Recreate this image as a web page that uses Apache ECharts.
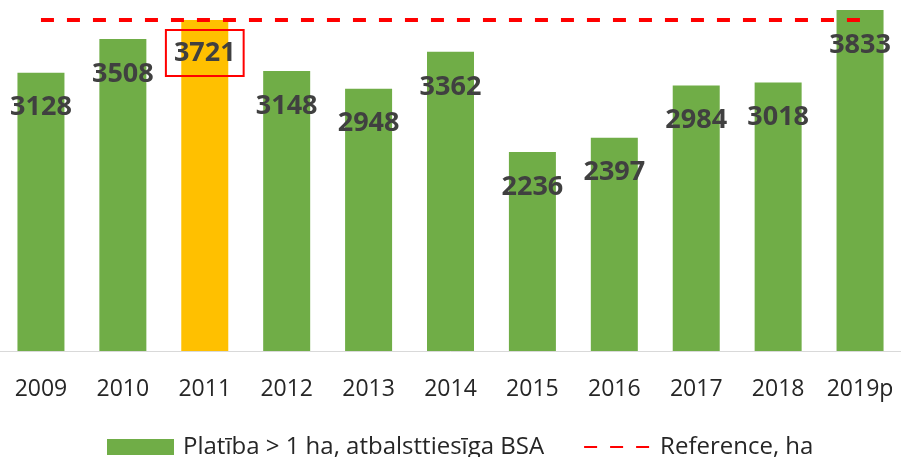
<!DOCTYPE html>
<html>
<head>
<meta charset="utf-8">
<script src="https://cdn.jsdelivr.net/npm/echarts@6/dist/echarts.min.js"></script>
<style>
  html, body { margin: 0; padding: 0; background: #fff; }
  #chart { width: 901px; height: 457px; }
</style>
</head>
<body>
<div id="chart"></div>
<script>
(function () {
  var myChart = echarts.init(document.getElementById("chart"));

  const years = ["2009", "2010", "2011", "2012", "2013", "2014", "2015", "2016", "2017", "2018", "2019p"];
  const areaValues = [3128, 3508, 3721, 3148, 2948, 3362, 2236, 2397, 2984, 3018, 3833];
  const referenceValues = [3721, 3721, 3721, 3721, 3721, 3721, 3721, 3721, 3721, 3721, 3721];
  const highlightYear = "2011";

  const fontFamily = "'Open Sans', 'Liberation Sans', sans-serif";

  // bar data, highlighted year gets the orange bar and the boxed label
  const barData = areaValues.map((v, i) => {
    if (years[i] !== highlightYear) return v;
    return {
      value: v,
      itemStyle: { color: "#FFC000" },
      label: {
        distance: 10,
        borderColor: "#FF0000",
        borderWidth: 2,
        padding: [8, 8],
      },
    };
  });

  const option = {
    backgroundColor: "#ffffff",
    animation: false,
    textStyle: { fontFamily: fontFamily },
    grid: {
      left: 0,
      right: -3,
      top: 4,
      bottom: 106,
      containLabel: false,
    },
    legend: {
      left: 102,
      top: 430,
      itemWidth: 67,
      itemHeight: 16,
      itemGap: 39,
      textStyle: {
        fontFamily: fontFamily,
        fontSize: 24,
        color: "#262626",
        padding: [0, 0, 0, 4],
      },
      data: [
        { name: "Platība > 1 ha, atbalsttiesīga BSA", icon: "rect" },
        { name: "Reference, ha", itemStyle: { opacity: 0 } },
      ],
    },
    xAxis: {
      type: "category",
      data: years,
      axisLine: { lineStyle: { color: "#D9D9D9", width: 1 } },
      axisTick: { show: false },
      axisLabel: {
        interval: 0,
        fontFamily: fontFamily,
        fontSize: 23,
        color: "#262626",
        margin: 27,
      },
    },
    yAxis: {
      type: "value",
      min: 0,
      max: 3900,
      show: false,
      splitLine: { show: false },
    },
    series: [
      {
        name: "Platība > 1 ha, atbalsttiesīga BSA",
        type: "bar",
        barWidth: 47,
        itemStyle: { color: "#70AD47" },
        label: {
          show: true,
          position: "insideTop",
          distance: 20,
          fontFamily: fontFamily,
          fontSize: 27,
          fontWeight: "bold",
          lineHeight: 30,
          color: "#404040",
        },
        data: barData,
      },
      {
        name: "Reference, ha",
        type: "line",
        symbol: "none",
        lineStyle: { color: "#FF0000", width: 4, type: [13, 13] },
        itemStyle: { color: "#FF0000" },
        z: 5,
        data: referenceValues,
      },
    ],
  };

  myChart.setOption(option, true);

  window.onresize = function () {
    myChart.resize();
  };
})();
</script>
</body>
</html>
